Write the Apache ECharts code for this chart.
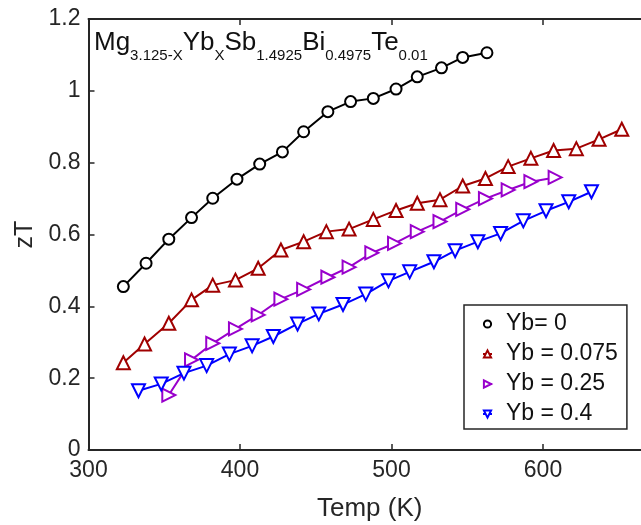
<!DOCTYPE html>
<html>
<head>
<meta charset="utf-8">
<script src="https://cdn.jsdelivr.net/npm/echarts@6/dist/echarts.min.js"></script>
<style>
html,body{margin:0;padding:0;background:#fff;}
#c{width:641px;height:525px;}
</style>
</head>
<body>
<div id="c"></div>
<script>
// ---- data ----
const xTicks = [300, 400, 500, 600, 700];
const yTicks = [0, 0.2, 0.4, 0.6, 0.8, 1.0, 1.2];

const names = ['Yb= 0', 'Yb = 0.075', 'Yb = 0.25', 'Yb = 0.4'];

const tempYb0 = [323, 338, 353, 368, 382, 398, 413, 428, 442, 458, 473, 488, 503, 517, 533, 547, 563];
const ztYb0   = [0.455, 0.520, 0.587, 0.647, 0.701, 0.754, 0.796, 0.830, 0.886, 0.942, 0.970, 0.979, 1.005, 1.039, 1.064, 1.093, 1.106];

const tempYb075 = [323, 337, 353, 368, 382, 397, 412, 427, 442, 457, 472, 488, 503, 517, 532, 547, 562, 577, 592, 607, 622, 637, 652];
const ztYb075   = [0.243, 0.295, 0.353, 0.418, 0.459, 0.473, 0.506, 0.557, 0.580, 0.608, 0.615, 0.642, 0.667, 0.687, 0.697, 0.735, 0.756, 0.789, 0.812, 0.834, 0.839, 0.865, 0.893];

const tempYb25 = [353, 368, 382, 397, 412, 427, 442, 458, 472, 487, 502, 517, 532, 547, 562, 577, 592, 608];
const ztYb25   = [0.153, 0.251, 0.297, 0.337, 0.376, 0.420, 0.447, 0.481, 0.509, 0.549, 0.575, 0.608, 0.636, 0.670, 0.700, 0.724, 0.747, 0.759];

const tempYb4 = [333, 348, 363, 378, 393, 408, 422, 438, 452, 468, 483, 498, 512, 528, 542, 557, 572, 587, 602, 617, 632];
const ztYb4   = [0.165, 0.184, 0.214, 0.235, 0.267, 0.290, 0.316, 0.351, 0.379, 0.405, 0.434, 0.471, 0.496, 0.524, 0.555, 0.580, 0.603, 0.638, 0.666, 0.691, 0.719];

const xAxisTitle = 'Temp (K)';
const yAxisTitle = 'zT';

// ---- build ----
const zip = (xs, ys) => xs.map((x, i) => [x, ys[i]]);
const FONT = 'Liberation Sans, Arial, Helvetica, sans-serif';
const AX = '#262626';

const chart = echarts.init(document.getElementById('c'), null, {renderer: 'canvas'});

function mkSeries(name, data, color, symbol, size, rot) {
  return {
    name: name,
    type: 'line',
    data: data,
    xAxisIndex: 0,
    yAxisIndex: 0,
    symbol: symbol,
    symbolSize: size,
    symbolRotate: rot,
    showAllSymbol: true,
    lineStyle: {color: color, width: 2},
    itemStyle: {color: color, borderColor: color, borderWidth: 2},
    emphasis: {disabled: true},
    animation: false,
    clip: false,
    z: 3
  };
}

const option = {
  animation: false,
  backgroundColor: '#fff',
  title: {
    text: '{m|Mg}{s|3.125-X}{m|Yb}{s|X}{m|Sb}{s|1.4925}{m|Bi}{s|0.4975}{m|Te}{s|0.01}',
    left: 94,
    top: 30,
    padding: 0,
    textStyle: {
      fontWeight: 'normal',
      rich: {
        m: {fontFamily: FONT, fontSize: 26, fontWeight: 'normal', color: '#111', verticalAlign: 'top', lineHeight: 28},
        s: {fontFamily: FONT, fontSize: 15, fontWeight: 'normal', color: '#111', verticalAlign: 'top', lineHeight: 16, padding: [18, 0, 0, 0]}
      }
    }
  },
  graphic: [{
    type: 'text',
    left: 371 - 54,
    top: 496,
    style: {text: xAxisTitle, font: '26px ' + FONT, fill: AX}
  }],
  legend: {
    orient: 'vertical',
    left: 464,
    top: 305,
    padding: [7, 9, 3, 18],
    itemGap: 6,
    itemWidth: 9,
    itemHeight: 9,
    borderColor: AX,
    borderWidth: 1.5,
    backgroundColor: '#fff',
    textStyle: {fontFamily: FONT, fontSize: 23, color: '#111', lineHeight: 24, padding: [0, 0, 0, 9]},
    data: names.map(n => ({name: n})),
    selectedMode: false
  },
  grid: {left: 88.5, top: 19, width: 606, height: 431, containLabel: false, outerBoundsMode: 'none'},
  xAxis: [{
    type: 'value',
    min: xTicks[0], max: xTicks[xTicks.length - 1], interval: 100,
    position: 'bottom',
    axisLine: {show: true, lineStyle: {color: AX, width: 2}},
    axisTick: {show: true, inside: true, length: 6, lineStyle: {color: AX, width: 1.5}},
    axisLabel: {fontFamily: FONT, fontSize: 23, color: AX, margin: 9},
    splitLine: {show: false}
  }, {
    type: 'value',
    min: xTicks[0], max: xTicks[xTicks.length - 1], interval: 100,
    position: 'top',
    axisLine: {show: true, lineStyle: {color: AX, width: 2}},
    axisTick: {show: true, inside: true, length: 6, lineStyle: {color: AX, width: 1.5}},
    axisLabel: {show: false},
    splitLine: {show: false}
  }],
  yAxis: [{
    type: 'value',
    min: yTicks[0], max: yTicks[yTicks.length - 1], interval: 0.2,
    position: 'left',
    axisLine: {show: true, lineStyle: {color: AX, width: 2}},
    axisTick: {show: true, inside: true, length: 6, lineStyle: {color: AX, width: 1.5}},
    axisLabel: {fontFamily: FONT, fontSize: 23, color: AX, margin: 8},
    splitLine: {show: false},
    name: yAxisTitle,
    nameLocation: 'middle',
    nameGap: 45,
    nameTextStyle: {fontFamily: FONT, fontSize: 25, color: AX}
  }],
  series: [
    mkSeries(names[0], zip(tempYb0, ztYb0), '#000000', 'emptyCircle', 11, 0),
    mkSeries(names[1], zip(tempYb075, ztYb075), '#A00000', 'emptyTriangle', 13, 0),
    mkSeries(names[2], zip(tempYb25, ztYb25), '#9900CC', 'emptyTriangle', 13, -90),
    mkSeries(names[3], zip(tempYb4, ztYb4), '#0000FF', 'emptyTriangle', 13, 180)
  ]
};
chart.setOption(option);
</script>
</body>
</html>
